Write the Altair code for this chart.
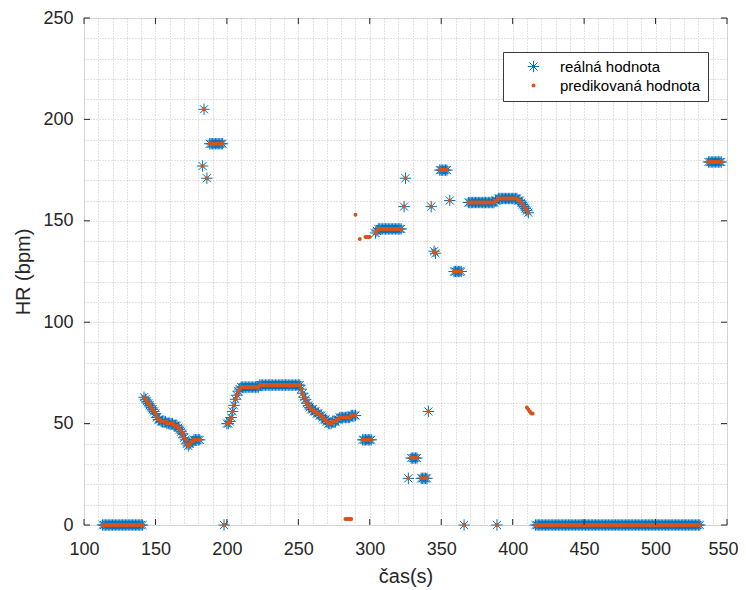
import altair as alt
import pandas as pd

# ---------------- data ----------------
real_t = [
    113, 114, 115, 116, 117, 118, 119, 120, 121, 122, 123, 124, 125, 126, 127,
    128, 129, 130, 131, 132, 133, 134, 135, 136, 137, 138, 139, 140, 141,
    142, 143, 144, 145, 146, 147, 148, 149, 150, 151, 152, 153, 154, 155, 156,
    157, 158, 159, 160, 161, 162, 163, 164, 165, 166, 167, 168, 169, 170, 171,
    172, 173, 174, 175, 176, 177, 178, 179, 180, 181,
    183, 184, 186, 188, 189, 190, 191, 192, 193, 194, 195, 196, 197,
    198,
    200, 201, 202, 203, 204, 205, 206, 207, 208, 209,
    210, 211, 212, 213, 214, 215, 216, 217, 218, 219, 220, 221, 222,
    223, 224, 225, 226, 227, 228, 229, 230, 231, 232, 233, 234, 235, 236, 237,
    238, 239, 240, 241, 242, 243, 244, 245, 246, 247, 248, 249, 250, 251,
    252, 253, 254, 255, 256, 257, 258, 259, 260, 261, 262, 263, 264, 265, 266,
    267, 268, 269, 270, 271, 272, 273, 274, 275, 276, 277, 278, 279, 280, 281,
    282, 283, 284, 285, 286, 287, 288, 289, 290,
    295, 296, 297, 298, 299, 300, 301,
    304, 305, 306, 307, 308, 309, 310, 311, 312, 313, 314, 315, 316, 317, 318,
    319, 320, 321, 322,
    324, 325, 327, 329, 330, 331, 332, 333, 336, 337, 338, 339, 340, 341, 343,
    345, 346, 349, 350, 351, 352, 353, 354, 356, 359, 360, 361, 362, 363, 364,
    366,
    369, 370, 371, 372, 373, 374, 375, 376, 377, 378, 379, 380, 381, 382, 383,
    384, 385, 386, 387, 388, 389, 390, 391, 392, 393, 394, 395, 396, 397, 398,
    399, 400, 401, 402, 403, 404, 405, 406, 407, 408, 409, 410, 411,
    389,
    416, 417, 418, 419, 420, 421, 422, 423, 424, 425, 426, 427, 428, 429, 430,
    431, 432, 433, 434, 435, 436, 437, 438, 439, 440, 441, 442, 443, 444, 445,
    446, 447, 448, 449, 450, 451, 452, 453, 454, 455, 456, 457, 458, 459, 460,
    461, 462, 463, 464, 465, 466, 467, 468, 469, 470, 471, 472, 473, 474, 475,
    476, 477, 478, 479, 480, 481, 482, 483, 484, 485, 486, 487, 488, 489, 490,
    491, 492, 493, 494, 495, 496, 497, 498, 499, 500, 501, 502, 503, 504, 505,
    506, 507, 508, 509, 510, 511, 512, 513, 514, 515, 516, 517, 518, 519, 520,
    521, 522, 523, 524, 525, 526, 527, 528, 529, 530, 531,
    537, 538, 539, 540, 541, 542, 543, 544, 545, 546,
]
real_hr = [
    0, 0, 0, 0, 0, 0, 0, 0, 0, 0, 0, 0, 0, 0, 0,
    0, 0, 0, 0, 0, 0, 0, 0, 0, 0, 0, 0, 0, 0,
    63, 62, 61, 60, 59, 58, 57, 56, 55, 53, 52, 52, 51, 51, 51,
    51, 50, 50, 50, 50, 50, 49, 49, 49, 48, 47, 46, 45, 43, 42,
    40, 39, 40, 41, 41, 42, 42, 42, 42, 42,
    177, 205, 171, 188, 188, 188, 188, 188, 188, 188, 188, 188, 188,
    0,
    50, 50, 51, 53, 56, 59, 62, 64, 66, 67,
    68, 68, 68, 68, 68, 68, 68, 68, 68, 68, 68, 68, 68,
    69, 69, 69, 69, 69, 69, 69, 69, 69, 69, 69, 69, 69, 69, 69,
    69, 69, 69, 69, 69, 69, 69, 69, 69, 69, 69, 69, 69, 69,
    67, 65, 63, 62, 60, 59, 58, 57, 57, 56, 56, 55, 55, 54, 54,
    53, 52, 52, 51, 50, 50, 50, 51, 51, 51, 52, 52, 53, 53, 53,
    53, 53, 53, 53, 53, 54, 54, 54, 54,
    42, 42, 42, 42, 42, 42, 42,
    144, 145, 146, 146, 146, 146, 146, 146, 146, 146, 146, 146, 146, 146, 146,
    146, 146, 146, 146,
    157, 171, 23, 33, 33, 33, 33, 33, 23, 23, 23, 23, 23, 56, 157,
    135, 134, 175, 175, 175, 175, 175, 175, 160, 125, 125, 125, 125, 125, 125,
    0,
    159, 159, 159, 159, 159, 159, 159, 159, 159, 159, 159, 159, 159, 159, 159,
    159, 159, 159, 159, 160, 160, 161, 161, 161, 161, 161, 161, 161, 161, 161,
    161, 161, 161, 161, 161, 160, 160, 159, 158, 157, 156, 155, 154,
    0,
    0, 0, 0, 0, 0, 0, 0, 0, 0, 0, 0, 0, 0, 0, 0,
    0, 0, 0, 0, 0, 0, 0, 0, 0, 0, 0, 0, 0, 0, 0,
    0, 0, 0, 0, 0, 0, 0, 0, 0, 0, 0, 0, 0, 0, 0,
    0, 0, 0, 0, 0, 0, 0, 0, 0, 0, 0, 0, 0, 0, 0,
    0, 0, 0, 0, 0, 0, 0, 0, 0, 0, 0, 0, 0, 0, 0,
    0, 0, 0, 0, 0, 0, 0, 0, 0, 0, 0, 0, 0, 0, 0,
    0, 0, 0, 0, 0, 0, 0, 0, 0, 0, 0, 0, 0, 0, 0,
    0, 0, 0, 0, 0, 0, 0, 0, 0, 0, 0,
    179, 179, 179, 179, 179, 179, 179, 179, 179, 179,
]

# predicted values that do not coincide with the real ones
pred_extra_t = [283, 284, 285, 286, 287, 290, 293, 297, 298, 299, 300,
                410, 411, 412, 413, 414]
pred_extra_hr = [3, 3, 3, 3, 3, 153, 141, 142, 142, 142, 142,
                 58, 57, 56, 55, 55]

series_names = ["reálná hodnota", "predikovaná hodnota"]
series_colors = ["#0072BD", "#D95319"]

x_major = [100, 150, 200, 250, 300, 350, 400, 450, 500, 550]
y_major = [0, 50, 100, 150, 200, 250]
x_grid = list(range(100, 551, 10))
y_grid = list(range(0, 251, 10))

# ---------------- build tables ----------------
df_real = pd.DataFrame({"t": real_t, "hr": real_hr, "series": series_names[0]})
df_pred = pd.DataFrame({"t": real_t + pred_extra_t,
                        "hr": real_hr + pred_extra_hr,
                        "series": series_names[1]})
df = pd.concat([df_real, df_pred], ignore_index=True)

ASTERISK = ("M-1,0L1,0M0,-1L0,1M-0.7071,-0.7071L0.7071,0.7071"
            "M-0.7071,0.7071L0.7071,-0.7071")

W, H = 643, 507
FONT = "Liberation Sans"
TXT = "#262626"

x_scale = alt.Scale(domain=[100, 550], nice=False, zero=False)
y_scale = alt.Scale(domain=[0, 250], nice=False, zero=False)

x_axis = alt.Axis(
    values=x_grid, tickCount=200,
    labelExpr="datum.value % 50 === 0 ? datum.label : ''",
    labelOffset=alt.ConditionalAxisNumber(
        condition={"test": "datum.value === 550", "value": -4}, value=0),
    title="čas(s)", grid=True, gridDash=[1, 2], gridColor="#c4c4c4",
    gridWidth=1, tickSize=0, domain=False, labelFlush=False,
    labelOverlap=False, labelFontSize=18, labelColor=TXT, labelPadding=15,
    titleFontSize=20, titleFontWeight="normal", titleColor=TXT,
    titlePadding=8, labelFont=FONT, titleFont=FONT,
)
y_axis = alt.Axis(
    values=y_grid, tickCount=200,
    labelExpr="datum.value % 50 === 0 ? datum.label : ''",
    title="HR (bpm)", grid=True, gridDash=[1, 2], gridColor="#c4c4c4",
    gridWidth=1, tickSize=0, domain=False, labelFlush=False,
    labelOverlap=False, labelFontSize=18, labelColor=TXT, labelPadding=11,
    titleFontSize=20, titleFontWeight="normal", titleColor=TXT,
    titlePadding=9, labelFont=FONT, titleFont=FONT,
)

legend = alt.Legend(
    title=None, orient="none", legendX=419, legendY=34,
    fillColor="white", strokeColor="#3a3a3a", padding=7, cornerRadius=0,
    labelFont=FONT, labelFontSize=15, labelColor="#000000",
    labelOffset=19, symbolOffset=16, rowPadding=3,
)

points = alt.Chart(df).mark_point(filled=False, opacity=1).encode(
    x=alt.X("t:Q", scale=x_scale, axis=x_axis),
    y=alt.Y("hr:Q", scale=y_scale, axis=y_axis),
    color=alt.Color("series:N",
                    scale=alt.Scale(domain=series_names, range=series_colors),
                    legend=legend),
    shape=alt.Shape("series:N",
                    scale=alt.Scale(domain=series_names, range=[ASTERISK, "circle"]),
                    legend=legend),
    size=alt.Size("series:N",
                  scale=alt.Scale(domain=series_names, range=[130, 4]),
                  legend=legend),
    strokeWidth=alt.StrokeWidth("series:N",
                                scale=alt.Scale(domain=series_names, range=[1, 2]),
                                legend=legend),
)

xt_df = pd.DataFrame({"t": x_major})
yt_df = pd.DataFrame({"hr": y_major})
tick_color = TXT
xt_bottom = alt.Chart(xt_df).mark_rule(color=tick_color).encode(
    x=alt.X("t:Q", title="čas(s)"), y=alt.value(H), y2=alt.value(H - 6))
xt_top = alt.Chart(xt_df).mark_rule(color=tick_color).encode(
    x=alt.X("t:Q", title="čas(s)"), y=alt.value(0), y2=alt.value(6))
yt_left = alt.Chart(yt_df).mark_rule(color=tick_color).encode(
    y=alt.Y("hr:Q", title="HR (bpm)"), x=alt.value(0), x2=alt.value(6))
yt_right = alt.Chart(yt_df).mark_rule(color=tick_color).encode(
    y=alt.Y("hr:Q", title="HR (bpm)"), x=alt.value(W), x2=alt.value(W - 6))

chart = alt.layer(points, xt_bottom, xt_top, yt_left, yt_right).properties(
    width=W, height=H,
    autosize=alt.AutoSizeParams(type="none"),
    padding={"left": 76, "top": 10, "right": 11, "bottom": 64},
    background="white",
).configure_view(
    stroke=TXT, strokeWidth=1
).configure(font=FONT)

chart.save("out.html", embed_options={"renderer": "svg", "actions": False})
